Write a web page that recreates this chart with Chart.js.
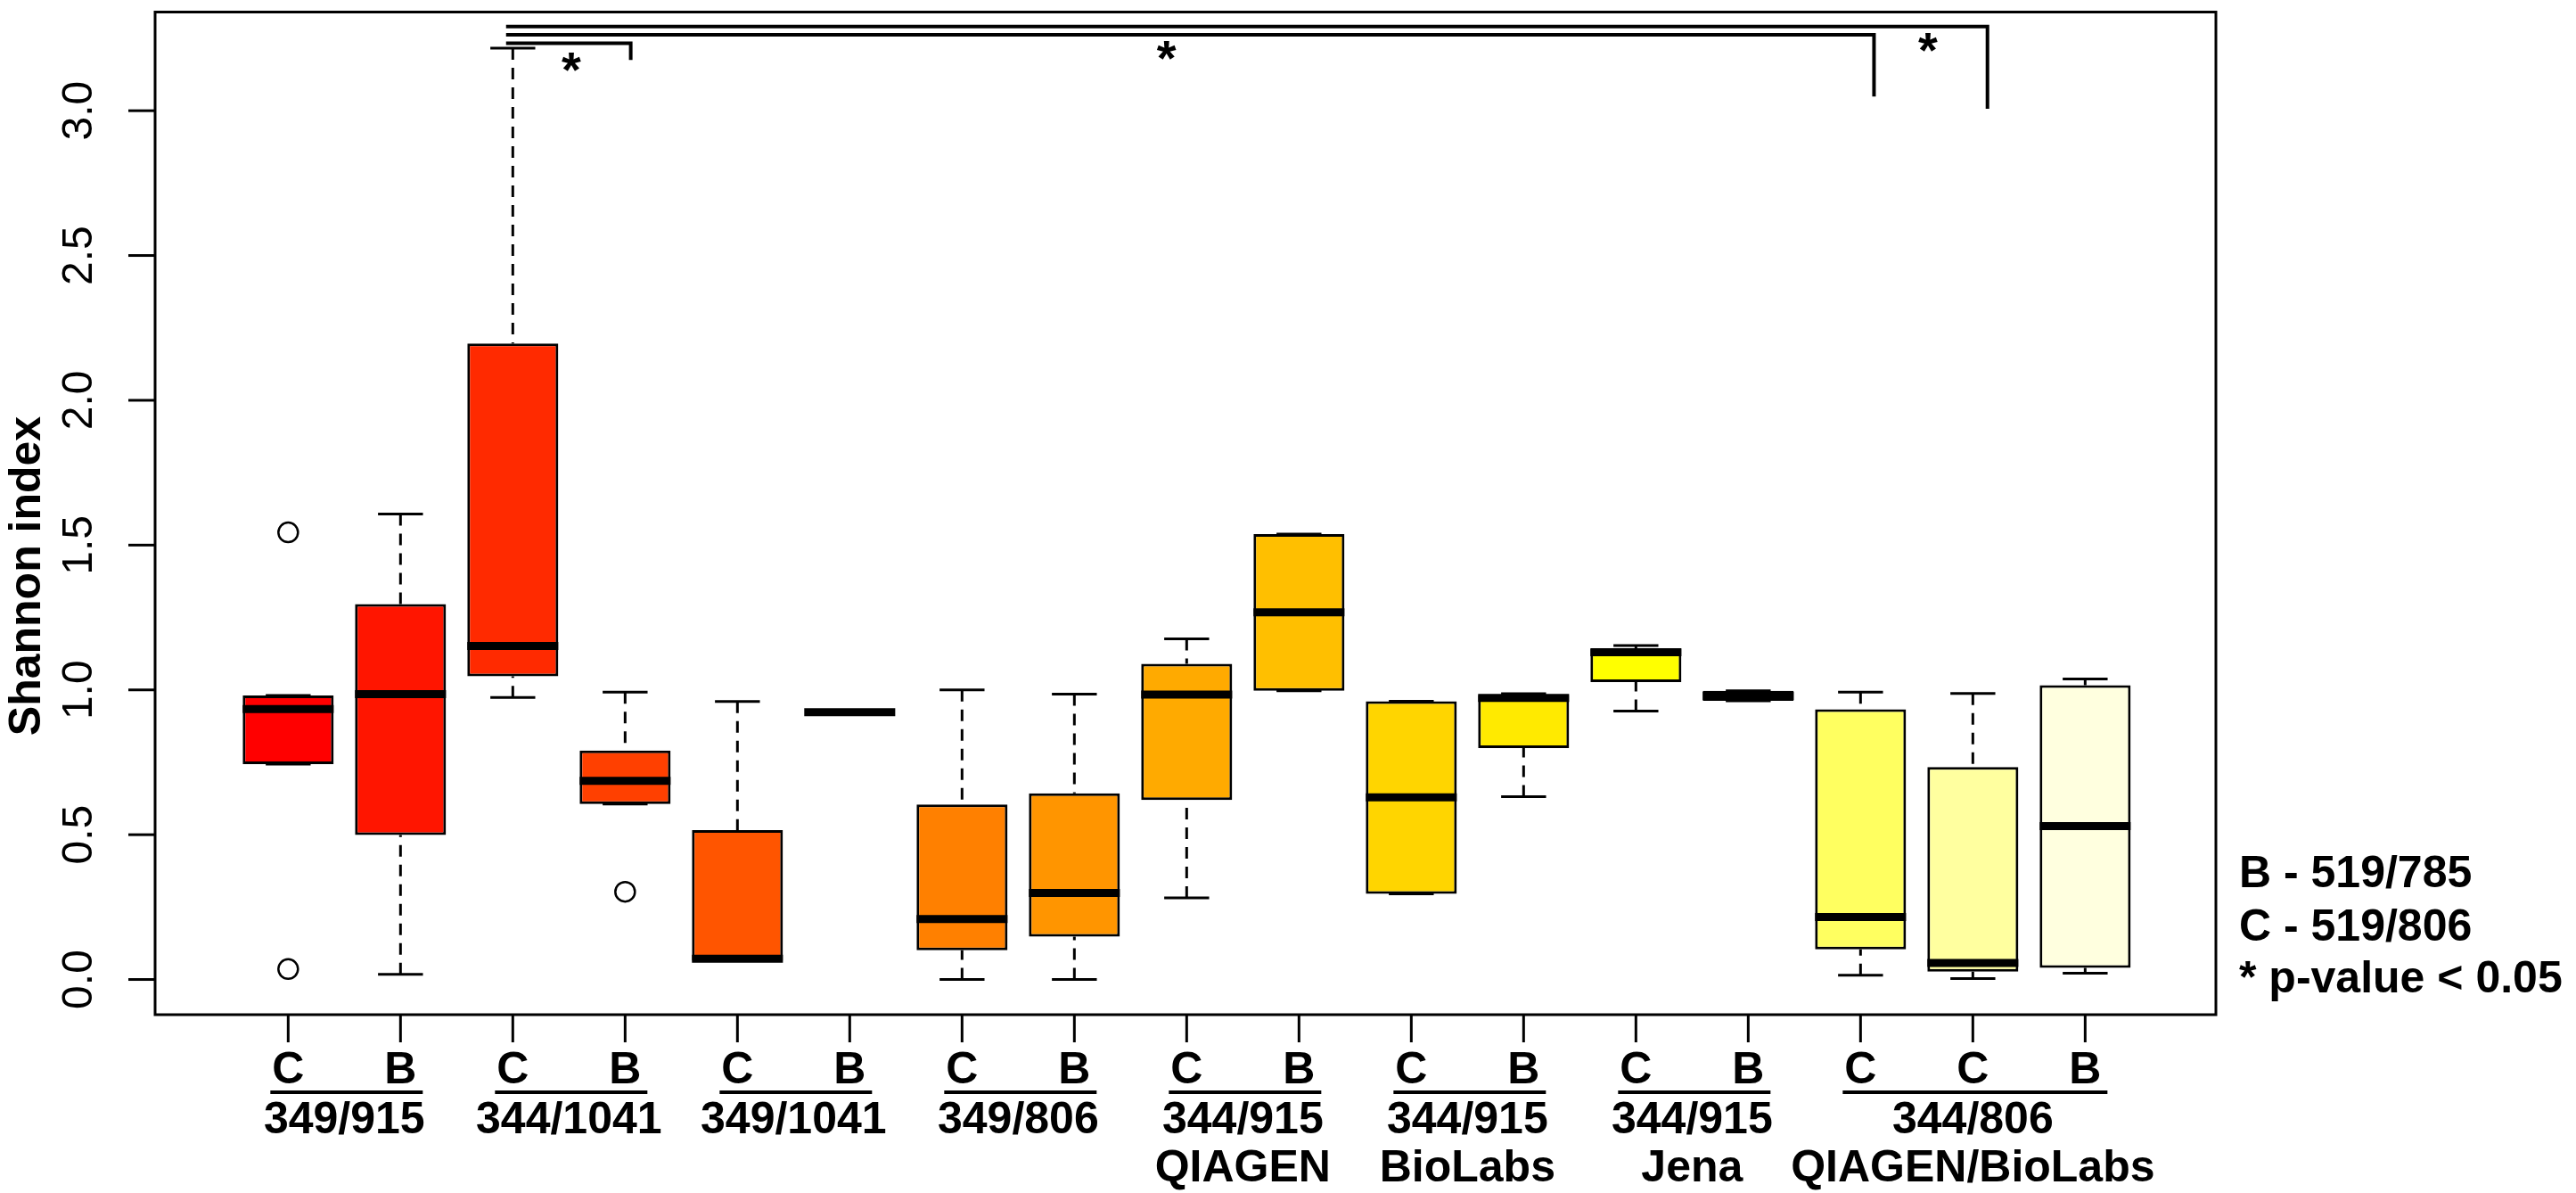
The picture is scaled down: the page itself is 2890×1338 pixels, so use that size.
<!DOCTYPE html>
<html>
<head>
<meta charset="utf-8">
<script src="https://cdn.jsdelivr.net/npm/chart.js@4.4.1/dist/chart.umd.min.js"></script>
<style>
  html, body { margin: 0; padding: 0; background: #ffffff; }
  canvas { display: block; }
</style>
</head>
<body>
<canvas id="boxchart" width="2890" height="1338"></canvas>
<script>
// box statistics, one entry per box (left to right)
var boxLetters = ['C', 'B', 'C', 'B', 'C', 'B', 'C', 'B', 'C', 'B', 'C', 'B', 'C', 'B', 'C', 'C', 'B'];
var whiskerLow  = [0.744, 0.018, 0.974, 0.606, 0.065, 0.923, 0.000, 0.000, 0.282, 0.997, 0.296, 0.631, 0.927, 0.962, 0.015, 0.003, 0.022];
var lowerQuart  = [0.744, 0.499, 1.047, 0.606, 0.065, 0.923, 0.101, 0.148, 0.620, 0.997, 0.296, 0.799, 1.027, 0.962, 0.104, 0.027, 0.040];
var medians     = [0.934, 0.985, 1.152, 0.686, 0.072, 0.923, 0.209, 0.299, 0.984, 1.268, 0.629, 0.972, 1.130, 0.979, 0.216, 0.057, 0.530];
var upperQuart  = [0.981, 1.296, 2.196, 0.791, 0.516, 0.923, 0.604, 0.643, 1.090, 1.538, 0.961, 0.982, 1.141, 0.997, 0.933, 0.734, 1.016];
var whiskerHigh = [0.981, 1.607, 3.216, 0.992, 0.960, 0.923, 1.000, 0.985, 1.176, 1.538, 0.961, 0.987, 1.153, 0.997, 0.992, 0.988, 1.038];

// outliers: box number and value
var outlierBox   = [1, 1, 4];
var outlierValue = [1.544, 0.036, 0.303];

// heat colours, one per box
var boxColors = ['#FF0000', '#FF1500', '#FF2A00', '#FF4000', '#FF5500', '#FF6A00', '#FF8000', '#FF9500', '#FFAA00',
                 '#FFBF00', '#FFD500', '#FFEA00', '#FFFF00', '#FFFF20', '#FFFF60', '#FFFF9F', '#FFFFDF'];

// primer pair groups under the axis
var groupNames    = ['349/915', '344/1041', '349/1041', '349/806', '344/915', '344/915', '344/915', '344/806'];
var groupSubNames = ['', '', '', '', 'QIAGEN', 'BioLabs', 'Jena', 'QIAGEN/BioLabs'];
var groupSizes    = [2, 2, 2, 2, 2, 2, 2, 3];

var yTicks = [0, 0.5, 1, 1.5, 2, 2.5, 3];
var legendLines = ['B - 519/785', 'C - 519/806', '* p-value < 0.05'];

// significance brackets: from box position, to box position, line level, drop end, star position
var sigFrom  = [2.94, 2.94, 2.94];
var sigTo    = [4.05, 15.12, 16.13];
var sigLevel = [3.233, 3.262, 3.291];
var sigDrop  = [3.175, 3.049, 3.007];
var starX    = [3.52, 8.82, 15.6];
var starY    = [3.167, 3.208, 3.236];

var FONT = '"Liberation Sans", Arial, Helvetica, sans-serif';

var boxData = [];
for (var i = 0; i < medians.length; i++) {
  boxData.push({ x: i + 1, y: [lowerQuart[i], upperQuart[i]] });
}
var outlierData = [];
for (var k = 0; k < outlierBox.length; k++) {
  outlierData.push({ x: outlierBox[k], y: outlierValue[k] });
}

var boxExtras = {
  id: 'boxExtras',
  beforeDatasetsDraw: function (chart) {
    var ctx = chart.ctx, xs = chart.scales.x, ys = chart.scales.y;
    ctx.save();
    ctx.strokeStyle = '#000';
    ctx.lineWidth = 3;
    for (var i = 0; i < medians.length; i++) {
      var cx = xs.getPixelForValue(i + 1);
      var half = xs.getPixelForValue(i + 1.2) - cx;
      // dashed whiskers, drawn from the end toward the box
      ctx.setLineDash([13, 9]);
      ctx.beginPath();
      ctx.moveTo(cx, ys.getPixelForValue(whiskerHigh[i]));
      ctx.lineTo(cx, ys.getPixelForValue(upperQuart[i]));
      ctx.moveTo(cx, ys.getPixelForValue(whiskerLow[i]));
      ctx.lineTo(cx, ys.getPixelForValue(lowerQuart[i]));
      ctx.stroke();
      // staples
      ctx.setLineDash([]);
      ctx.beginPath();
      ctx.moveTo(cx - half, ys.getPixelForValue(whiskerHigh[i]));
      ctx.lineTo(cx + half, ys.getPixelForValue(whiskerHigh[i]));
      ctx.moveTo(cx - half, ys.getPixelForValue(whiskerLow[i]));
      ctx.lineTo(cx + half, ys.getPixelForValue(whiskerLow[i]));
      ctx.stroke();
    }
    ctx.restore();
  },
  afterDatasetsDraw: function (chart) {
    var ctx = chart.ctx, xs = chart.scales.x, ys = chart.scales.y, a = chart.chartArea;
    ctx.save();

    // medians
    ctx.strokeStyle = '#000';
    ctx.lineWidth = 9;
    ctx.lineCap = 'butt';
    for (var i = 0; i < medians.length; i++) {
      var cx = xs.getPixelForValue(i + 1);
      var hw = (xs.getPixelForValue(i + 1.405) - cx);
      var my = ys.getPixelForValue(medians[i]);
      ctx.beginPath();
      ctx.moveTo(cx - hw, my);
      ctx.lineTo(cx + hw, my);
      ctx.stroke();
    }

    // plot frame
    ctx.lineWidth = 3;
    ctx.strokeRect(a.left, a.top, a.right - a.left, a.bottom - a.top);

    // y ticks and labels
    ctx.fillStyle = '#000';
    ctx.font = '48px ' + FONT;
    ctx.textAlign = 'center';
    ctx.textBaseline = 'alphabetic';
    yTicks.forEach(function (v) {
      var py = ys.getPixelForValue(v);
      ctx.beginPath();
      ctx.moveTo(a.left - 30, py);
      ctx.lineTo(a.left, py);
      ctx.stroke();
      ctx.save();
      ctx.translate(103, py);
      ctx.rotate(-Math.PI / 2);
      ctx.fillText(v.toFixed(1), 0, 0);
      ctx.restore();
    });

    // y title
    ctx.save();
    ctx.font = 'bold 50px ' + FONT;
    ctx.translate(45, 646);
    ctx.rotate(-Math.PI / 2);
    ctx.fillText('Shannon index', 0, 0);
    ctx.restore();

    // x ticks and box letters
    ctx.font = 'bold 50px ' + FONT;
    for (var j = 0; j < boxLetters.length; j++) {
      var tx = xs.getPixelForValue(j + 1);
      ctx.beginPath();
      ctx.moveTo(tx, a.bottom);
      ctx.lineTo(tx, a.bottom + 31);
      ctx.stroke();
      ctx.fillText(boxLetters[j], tx, 1215);
    }

    // group underline and names
    var start = 1;
    for (var g = 0; g < groupNames.length; g++) {
      var first = xs.getPixelForValue(start);
      var last = xs.getPixelForValue(start + groupSizes[g] - 1);
      ctx.lineWidth = 4;
      ctx.beginPath();
      ctx.moveTo(first - 20, 1225);
      ctx.lineTo(last + 25, 1225);
      ctx.stroke();
      var mid = (first + last) / 2;
      ctx.fillText(groupNames[g], mid, 1271);
      if (groupSubNames[g]) ctx.fillText(groupSubNames[g], mid, 1325);
      start += groupSizes[g];
    }

    // significance brackets
    ctx.lineWidth = 4;
    ctx.lineJoin = 'miter';
    for (var s = 0; s < sigFrom.length; s++) {
      var ly = ys.getPixelForValue(sigLevel[s]);
      var rx = xs.getPixelForValue(sigTo[s]);
      ctx.beginPath();
      ctx.moveTo(xs.getPixelForValue(sigFrom[s]), ly);
      ctx.lineTo(rx, ly);
      ctx.lineTo(rx, ys.getPixelForValue(sigDrop[s]));
      ctx.stroke();
    }
    ctx.font = 'bold 56px ' + FONT;
    var m = ctx.measureText('*');
    var off = (m.actualBoundingBoxAscent - m.actualBoundingBoxDescent) / 2;
    for (var t = 0; t < starX.length; t++) {
      ctx.fillText('*', xs.getPixelForValue(starX[t]), ys.getPixelForValue(starY[t]) + off);
    }

    // legend text
    ctx.font = 'bold 50px ' + FONT;
    ctx.textAlign = 'left';
    var baselines = [995, 1055, 1113];
    legendLines.forEach(function (txt, n) {
      ctx.fillText(txt, a.right + 26, baselines[n]);
    });

    ctx.restore();
  }
};

new Chart(document.getElementById('boxchart').getContext('2d'), {
  type: 'bar',
  data: {
    datasets: [{
      label: 'boxes',
      data: boxData,
      backgroundColor: boxColors,
      borderColor: '#000000',
      borderWidth: 3,
      borderSkipped: false,
      barPercentage: 0.81,
      categoryPercentage: 1.0
    }, {
      type: 'scatter',
      label: 'outliers',
      data: outlierData,
      pointRadius: 11,
      pointBorderWidth: 2.5,
      pointBackgroundColor: 'rgba(0,0,0,0)',
      pointBorderColor: '#000000'
    }]
  },
  options: {
    responsive: false,
    devicePixelRatio: 1,
    animation: false,
    layout: { padding: { left: 174, top: 7, right: 404, bottom: 200 } },
    plugins: { legend: { display: false }, tooltip: { enabled: false } },
    scales: {
      x: { type: 'linear', min: -0.185, max: 18.164, offset: false, display: false },
      y: { type: 'linear', min: -0.1215, max: 3.3407, display: false }
    }
  },
  plugins: [boxExtras]
});
</script>
</body>
</html>
